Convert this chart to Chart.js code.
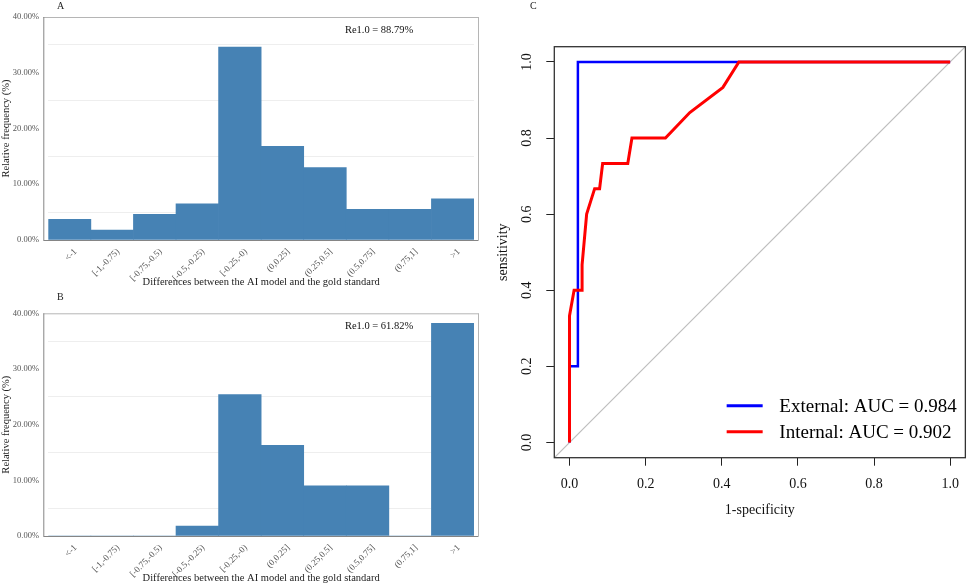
<!DOCTYPE html>
<html>
<head>
<meta charset="utf-8">
<script src="https://cdn.jsdelivr.net/npm/chart.js@4.4.1/dist/chart.umd.min.js"></script>
<style>
  body { margin: 0; background: #fff; }
  #wrap { position: relative; width: 969px; height: 586px; overflow: hidden; }
  canvas { position: absolute; }
  .tag { position: absolute; font-family: "Liberation Serif", serif; font-size: 10px; color: #222; }
</style>
</head>
<body>
<div id="wrap">
  <canvas id="histA" width="485" height="290" style="left:0;top:0"></canvas>
  <canvas id="histB" width="485" height="296" style="left:0;top:290px"></canvas>
  <canvas id="roc" width="484" height="586" style="left:485px;top:0"></canvas>
  <div class="tag" style="left:57px;top:0px">A</div>
  <div class="tag" style="left:57px;top:291px">B</div>
  <div class="tag" style="left:530px;top:0px">C</div>
</div>
<script>
// ---- data ----
const bins = ["<-1", "[-1,-0.75)", "[-0.75,-0.5)", "[-0.5,-0.25)", "[-0.25,-0)",
              "(0,0.25]", "(0.25,0.5]", "(0.5,0.75]", "(0.75,1]", ">1"];
const freqA = [3.7, 1.8, 4.6, 6.5, 34.6, 16.8, 13.0, 5.5, 5.5, 7.4];
const freqB = [0, 0, 0, 1.8, 25.4, 16.3, 9.0, 9.0, 0, 38.2];
const noteA = "Re1.0 = 88.79%";
const noteB = "Re1.0 = 61.82%";

const externalFpr = [0, 0, 0.022, 0.022, 1];
const externalTpr = [0, 0.2, 0.2, 1, 1];
const internalFpr = [0, 0, 0.012, 0.033, 0.033, 0.045, 0.066, 0.079, 0.087, 0.153, 0.164, 0.252, 0.316, 0.403, 0.445, 1];
const internalTpr = [0, 0.333, 0.4, 0.4, 0.467, 0.6, 0.667, 0.667, 0.733, 0.733, 0.8, 0.8, 0.867, 0.933, 1, 1];
const rocTicks = [0, 0.2, 0.4, 0.6, 0.8, 1.0];
const legendLabels = ["External: AUC = 0.984", "Internal: AUC = 0.902"];

const SERIF = "'Liberation Serif', 'Times New Roman', serif";

// frame + annotation for the histograms
const histFrame = {
  id: 'histFrame',
  afterDraw(chart, args, opts) {
    const { ctx, chartArea: a } = chart;
    const l = a.left - 5, r = a.right + 4.5;
    ctx.save();
    ctx.lineWidth = 1;
    ctx.strokeStyle = '#b5b5b5';
    ctx.beginPath();
    ctx.moveTo(l, a.top + 0.5); ctx.lineTo(r, a.top + 0.5);
    ctx.moveTo(r, a.top); ctx.lineTo(r, a.bottom);
    ctx.stroke();
    ctx.strokeStyle = '#858585';
    ctx.beginPath();
    ctx.moveTo(l + 0.5, a.top); ctx.lineTo(l + 0.5, a.bottom);
    ctx.moveTo(l, a.bottom + 0.5); ctx.lineTo(r, a.bottom + 0.5);
    ctx.stroke();
    // Re1.0 label
    ctx.fillStyle = '#111';
    ctx.font = "10.5px " + SERIF;
    ctx.textAlign = 'center';
    ctx.textBaseline = 'middle';
    const x = a.left + (a.right - a.left) * 0.777;
    ctx.fillText(opts.note, x, chart.scales.y.getPixelForValue(37.6));
    ctx.restore();
  }
};

function histChart(id, values, note, topPad) {
  return new Chart(document.getElementById(id), {
    type: 'bar',
    data: {
      labels: bins,
      datasets: [{
        data: values,
        backgroundColor: '#4682B4',
        borderWidth: 0,
        barPercentage: 1,
        categoryPercentage: 1
      }]
    },
    options: {
      responsive: false,
      animation: false,
      layout: { padding: { top: topPad, right: 11, left: 0, bottom: 1 } },
      plugins: { legend: { display: false }, tooltip: { enabled: false }, histFrame: { note: note } },
      scales: {
        x: {
          grid: { display: false, drawTicks: false },
          border: { display: false },
          ticks: {
            color: '#555', font: { family: SERIF, size: 9 },
            minRotation: 45, maxRotation: 45, padding: 6.5, labelOffset: 6, autoSkip: false
          },
          title: {
            display: true, text: 'Differences between the AI model and the gold standard',
            color: '#222', font: { family: SERIF, size: 10.5 }, padding: { top: 0, bottom: 0 }
          },
          afterFit(s) { s.height = 49; }
        },
        y: {
          min: 0, max: 40,
          border: { display: false },
          grid: {
            drawTicks: false,
            color: c => (c.tick.value % 10 === 5 ? '#eeeeee' : 'rgba(0,0,0,0)')
          },
          ticks: {
            stepSize: 5, padding: 9.3, color: '#555', font: { family: SERIF, size: 8.5 },
            callback: v => (v % 10 === 0 ? v.toFixed(2) + '%' : '')
          },
          title: {
            display: true, text: 'Relative frequency (%)',
            color: '#222', font: { family: SERIF, size: 10.5 }, padding: { top: 0, bottom: 0 }
          },
          afterFit(s) { s.width = 48.3; }
        }
      }
    },
    plugins: [histFrame]
  });
}

histChart('histA', freqA, noteA, 17);
histChart('histB', freqB, noteB, 23.3);

// ---- ROC panel ----
const toPts = (xs, ys) => xs.map((x, i) => ({ x: x, y: ys[i] }));

const rocExtras = {
  id: 'rocExtras',
  afterDraw(chart) {
    const { ctx, chartArea: a } = chart;
    ctx.save();
    ctx.strokeStyle = '#333';
    ctx.lineWidth = 1.3;
    ctx.strokeRect(a.left, a.top, a.right - a.left, a.bottom - a.top);
    // legend
    const cols = ['#0000ff', '#ff0000'];
    ctx.font = "19px " + SERIF;
    ctx.textBaseline = 'middle';
    ctx.textAlign = 'left';
    [52, 26].forEach((dy, i) => {
      const y = a.bottom - dy;
      ctx.strokeStyle = cols[i];
      ctx.lineWidth = 3;
      ctx.beginPath();
      ctx.moveTo(a.right - 238.7, y);
      ctx.lineTo(a.right - 202.7, y);
      ctx.stroke();
      ctx.fillStyle = '#000';
      ctx.fillText(legendLabels[i], a.right - 186, y + 1);
    });
    ctx.restore();
  }
};

const rocAxis = (titleText) => ({
  type: 'linear',
  min: -0.04, max: 1.04,
  afterBuildTicks(s) { s.ticks = rocTicks.map(v => ({ value: v })); },
  border: { display: false },
  grid: { drawOnChartArea: false, drawTicks: true, tickLength: 8, color: '#222', lineWidth: 1 },
  ticks: {
    color: '#111', font: { family: SERIF, size: 14 }, padding: 10,
    callback: v => v.toFixed(1)
  },
  title: {
    display: true, text: titleText, color: '#111',
    font: { family: SERIF, size: 14 }, padding: { top: 0, bottom: 0 }
  }
});

const xRoc = rocAxis('1-specificity');
xRoc.ticks.maxRotation = 0;
xRoc.afterFit = s => { s.height = 61.4; };
const yRoc = rocAxis('sensitivity');
yRoc.ticks.minRotation = 90;
yRoc.ticks.maxRotation = 90;
yRoc.ticks.crossAlign = 'center';
yRoc.afterFit = s => { s.width = 59.7; };

new Chart(document.getElementById('roc'), {
  type: 'scatter',
  data: {
    datasets: [
      {
        label: 'Internal', data: toPts(internalFpr, internalTpr), order: 1,
        showLine: true, borderColor: '#ff0000', borderWidth: 3, pointRadius: 0, tension: 0
      },
      {
        label: 'External', data: toPts(externalFpr, externalTpr), order: 2,
        showLine: true, borderColor: '#0000ff', borderWidth: 2.5, pointRadius: 0, tension: 0
      },
      {
        label: 'chance', data: toPts([-0.04, 1.04], [-0.04, 1.04]), order: 3,
        showLine: true, borderColor: '#bdbdbd', borderWidth: 1.2, pointRadius: 0
      }
    ]
  },
  options: {
    responsive: false,
    animation: false,
    layout: { padding: { top: 46.7, right: 3, left: 9.6, bottom: 66.9 } },
    plugins: { legend: { display: false }, tooltip: { enabled: false } },
    scales: { x: xRoc, y: yRoc }
  },
  plugins: [rocExtras]
});
</script>
</body>
</html>
